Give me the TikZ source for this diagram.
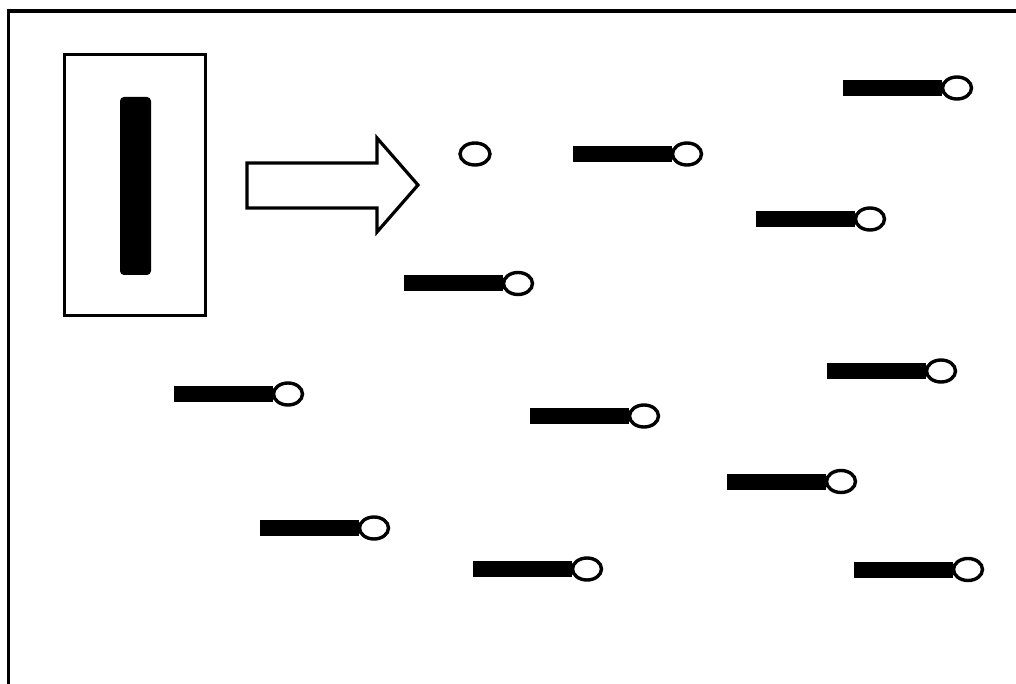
\documentclass[tikz,border=0pt]{standalone}
\usetikzlibrary{shapes.geometric}
\begin{document}
\begin{tikzpicture}[x=1pt,y=-1pt,
  barbox/.style={draw=none,fill=black,rectangle,minimum width=99pt,minimum height=16pt,inner sep=0pt,outer sep=0pt,anchor=west},
  headbox/.style={draw=black,fill=white,ellipse,line width=3.4pt,minimum width=29pt,minimum height=22pt,inner sep=0pt,outer sep=0pt,anchor=west},
  thick3/.style={line width=3.2pt}]
\useasboundingbox (0,0) rectangle (1016,684);
% frame (top and left)
\coordinate (ftl) at (8.5,11);
\coordinate (ftr) at (1016,11);
\coordinate (fbl) at (8.5,684);
\draw[thick3] (ftr) -- (ftl) -- (fbl);
% inner box with black bar
\node[draw,thick3,rectangle,minimum width=141pt,minimum height=261pt,inner sep=0pt] (box) at (135,185) {};
\node[fill=black,rectangle,rounded corners=4pt,minimum width=31pt,minimum height=178pt,inner sep=0pt] (rod) at (135.5,186) {};
% block arrow
\draw[thick3,line join=miter] (247,163) -- (377,163) -- (377,138) -- (418,185) -- (377,232) -- (377,208) -- (247,208) -- cycle;
% lone circle
\node[draw,fill=white,ellipse,line width=3.4pt,minimum width=30pt,minimum height=22pt,inner sep=0pt] (lone) at (475,154) {};
% pins
\foreach \n/\x/\y in {a/843/88, b/573/154, c/756/219, d/404/283.5, e/174/394, f/827/371, g/530/416, h/727/481.5, i/260/528, j/473/569, k/854/569.5}{
  \node[barbox] (bar\n) at (\x,\y) {};
  \node[headbox] (head\n) at ([xshift=0.5pt]bar\n.east) {};
}
\end{tikzpicture}
\end{document}
